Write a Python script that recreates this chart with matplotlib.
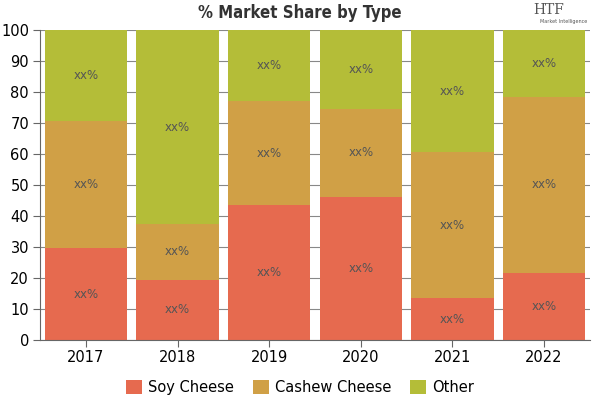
import matplotlib
matplotlib.use("Agg")
import matplotlib.pyplot as plt
import numpy as np

years = ['2017', '2018', '2019', '2020', '2021', '2022']
soy = [29.6, 19.4, 43.5, 46.2, 13.5, 21.6]
cashew = [41.0, 18.0, 33.6, 28.3, 47.1, 56.8]
other = [29.4, 62.6, 22.9, 25.5, 39.4, 21.6]
series_names = ['Soy Cheese', 'Cashew Cheese', 'Other']
label_text = 'xx%'


def main():
    colors = ['#E66A4F', '#D0A046', '#B4BD38']
    fig = plt.figure(figsize=(6, 4), dpi=100)
    ax = fig.add_axes([0.067, 0.15, 0.916, 0.775])

    x = np.arange(len(years))
    bottom = np.zeros(len(years))
    handles = []
    for name, vals, c in zip(series_names, [soy, cashew, other], colors):
        vals = np.array(vals)
        b = ax.bar(x, vals, bottom=bottom, width=0.9, color=c, zorder=2, label=name)
        handles.append(b)
        for xi, bi, vi in zip(x, bottom, vals):
            ax.text(xi, bi + vi / 2, label_text, ha='center', va='center',
                    fontsize=8.5, color='#555555', zorder=3)
        bottom = bottom + vals

    ax.set_xlim(-0.5, len(years) - 0.5)
    ax.set_ylim(0, 100)
    ax.set_yticks(range(0, 101, 10))
    ax.set_xticks(x)
    ax.set_xticklabels(years)
    ax.tick_params(axis='both', labelsize=10.5, color='#666666', length=5)
    ax.tick_params(axis='x', length=5, pad=2)
    ax.tick_params(axis='y', pad=3)
    ax.yaxis.grid(True, color='#888888', linewidth=0.8, zorder=0)
    ax.set_axisbelow(True)
    for s in ['top', 'right']:
        ax.spines[s].set_visible(False)
    ax.spines['left'].set_color('#666666')
    ax.spines['bottom'].set_color('#666666')

    fig.text(0.5, 0.968, '% Market Share by Type', ha='center', va='center',
             fontsize=12, fontweight='heavy', fontstretch='condensed', color='#333333')
    fig.text(0.915, 0.975, 'HTF', ha='center', va='center', fontsize=10,
             family='DejaVu Serif', color='#555555')
    fig.text(0.94, 0.945, 'Market Intelligence', ha='center', va='center',
             fontsize=3.5, color='#555555')

    fig.legend(handles=handles, labels=series_names, loc='center',
               bbox_to_anchor=(0.5, 0.032), ncol=3, frameon=False,
               fontsize=10.5, handlelength=1.1, handleheight=1.1,
               handletextpad=0.4, columnspacing=1.3)

    fig.savefig('out.png', dpi=100)


if __name__ == "__main__":
    main()
